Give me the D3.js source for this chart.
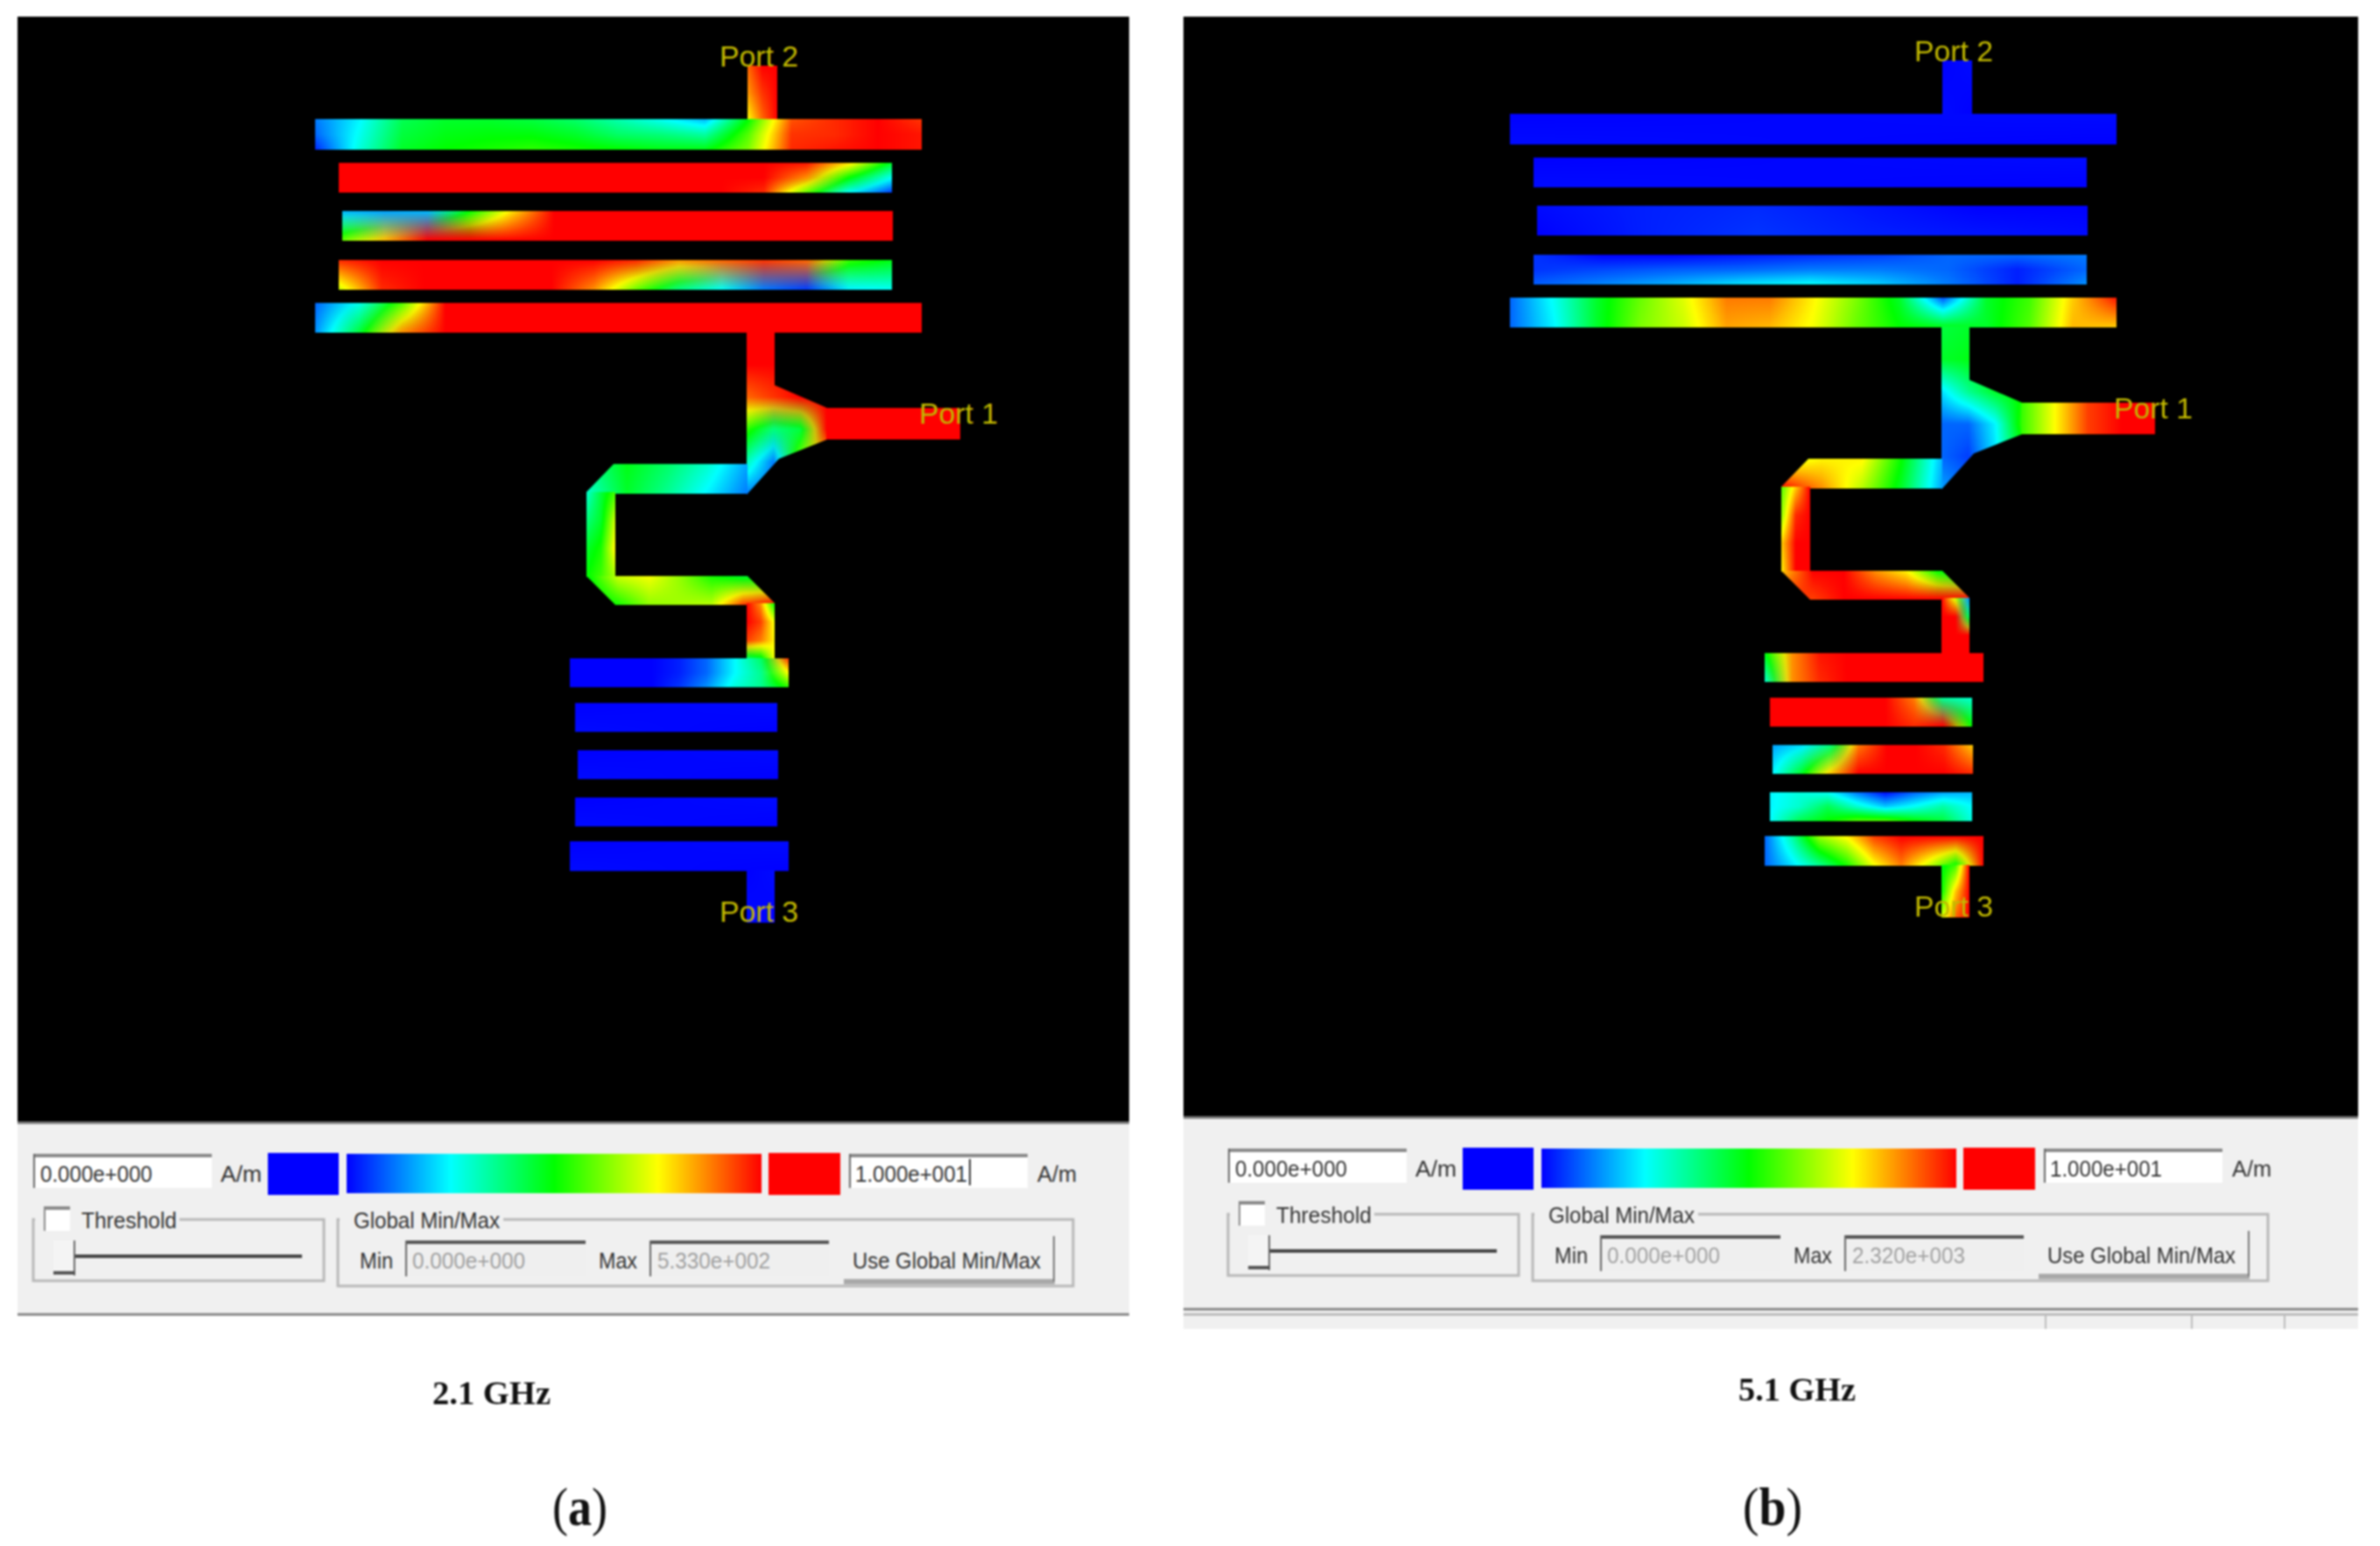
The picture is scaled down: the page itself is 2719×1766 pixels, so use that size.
<!DOCTYPE html>
<html>
<head>
<meta charset="utf-8">
<title>Surface current 2.1 GHz / 5.1 GHz</title>
<script src="https://cdn.jsdelivr.net/npm/d3@7/dist/d3.min.js"></script>
<style>
  html, body { margin: 0; padding: 0; background: #fff; }
  svg { display: block; filter: blur(0.8px); }
</style>
</head>
<body>
<div id="chart"></div>
<script>
// colour legend (A/m)
var fieldStops = [0, 2.5, 5, 7.5, 10];
var jetColors = ["#0000ff", "#00ffff", "#00ff00", "#ffff00", "#ff0000"];

// panel texts
var captions = ["2.1 GHz", "5.1 GHz"];
var panelLetters = ["a", "b"];
var legendMin = ["0.000e+000", "0.000e+000"];
var legendMax = ["1.000e+001", "1.000e+001"];
var globalMin = ["0.000e+000", "0.000e+000"];
var globalMax = ["5.330e+002", "2.320e+003"];
var portNames = ["Port 2", "Port 1", "Port 3"];
var portU = [462, 690, 462];
var portV = [1, 409, 978];

// strip layout, in layout units (same for both panels)
var stripLeft   = [494, 0, 27, 31, 27, 0, 493, 584, 310, 310, 310, 493, 291, 297, 300, 297, 291, 493];
var stripRight  = [528, 693, 659, 660, 659, 693, 585, 737, 494, 343, 525, 525, 541, 528, 529, 528, 541, 525];
var stripTop    = [0, 61, 111, 166, 222, 271, 304, 391, 455, 487, 583, 614, 677, 728, 782, 836, 886, 919];
var stripBottom = [62, 96, 145, 200, 256, 305, 490, 427, 489, 584, 616, 678, 710, 761, 815, 869, 920, 979];
var feedOutline = [[493,304],[525,304],[525,365],[585,391],[585,427],[530,449],[493,490]];
var topRunOutline = [[494,455],[341,455],[310,487],[310,489],[494,489]];
var bottomRunOutline = [[310,583],[494,583],[525,614],[525,616],[343,616]];
var stripOutlines = [null, null, null, null, null, null, feedOutline, null, topRunOutline, null, bottomRunOutline];

var lowField = [[0, 0.1], [0.1, 0]];
var highField = [[10, 10], [10, 10]];

// field, rows top to bottom
var a_stub2 = [[9,10,10],[8.5,9.5,10],[7.5,9,10]];
var a_bar1 = [
  [1.2,2.4,4.2,4.6,4.6,4.4,4.0,3.3,2.6,1.8,5.0,9.2,9.6,10,9.5],
  [1.0,2.6,4.4,4.8,4.9,4.9,4.6,4.0,3.8,3.4,5.8,9.5,9.6,10,9.8],
  [0.4,2.8,4.6,5.0,5.2,5.4,5.2,5.0,4.8,4.8,6.2,9.6,9.8,10,9.8]];
var a_bar2 = [
  [10,10,10,10,10,10,10,10,10,10,10,9.8,7.8,4.6],
  [10,10,10,10,10,10,10,10,10,10,10,8.6,5.0,2.6],
  [10,10,10,10,10,10,10,10,10,10,9.6,6.0,2.6,0.6]];
var a_bar3 = [
  [1.8,1.6,1.8,5.0,7.8,10,10,10,10,10,10,10,10,10],
  [6.0,8.2,10,10,10,10,10,10,10,10,10,10,10,10]];
var a_bar4 = [
  [9.6,10,10,10,10,10,10,9.6,8.5,9.0,9.5,9.0,5.5,4.8],
  [7.0,9.6,10,10,10,10,8.6,6.0,3.8,2.6,1.2,0.6,2.4,2.6]];
var a_bar5 = [
  [1.0,2.7,5.8,10,10,10,10,10,10,10,10,10,10,10,10],
  [1.4,4.4,8.6,10,10,10,10,10,10,10,10,10,10,10,10]];
var a_feed = [
  [10,10,10,10],
  [10,10,10,10],
  [9.0,9.5,10,10],
  [5.4,3.8,4.4,10],
  [3.2,1.2,6.2,8.0],
  [1.2,1.0,1.0,1.0]];
var a_topRun = [[3.5,4.8,4.0,3.0,1.6],[3.0,4.6,3.6,2.4,1.2]];
var a_leftRun = [[3.0,4.4,5.6],[3.8,4.6,7.0],[4.6,5.2,7.6],[5.0,5.6,6.6]];
var a_bottomRun = [[4.8,7.0,7.4,6.4,5.2,4.6,4.6],[4.4,5.2,6.4,6.6,6.8,9.4,10]];
var a_dropRun = [[10,8.6,5],[10,9.4,7.4],[9.4,8.8,7.6],[4,4.5,7.4]];
var a_bar6 = [
  [0,0,0,0,0.3,1.0,2.4,4.0,9.5],
  [0,0,0,0,0.3,1.0,2.4,3.6,7.5],
  [0,0,0,0,0.5,1.4,2.8,3.6,5.4]];

// field
var b_bar3 = [[0.1,0.3,0.4,0.2,0,0],[0,0.3,0.5,0.3,0.2,0.1]];
var b_bar4 = [
  [0.5,0,0,0.2,0.4,0.6,1.0,1.0,1.2],
  [0.5,0.7,0.9,1.0,1.2,1.2,1.0,0.3,1.0],
  [0.9,1.3,1.7,2.2,2.5,2.0,1.2,0.3,1.4]];
var b_bar5 = [
  [1.0,2.6,4.6,6.0,7.2,8.8,8.8,7.6,6.2,4.6,0.8,4.6,5.6,8.0,9.8],
  [1.0,2.4,4.6,6.2,7.0,8.4,8.2,7.4,6.0,5.0,4.8,4.6,5.8,8.2,8.0]];
var b_feed = [
  [4.4,4.6,5,5],
  [4.6,4.8,5,5],
  [2.2,3.6,4.6,5],
  [1.0,1.0,2.4,5.4],
  [1.0,0.6,2.2,4.6],
  [1.6,1,1,1]];
var b_arm = [[5.5,7.5,9.4,10,10],[5.5,7.5,9.4,10,10]];
var b_topRun = [[7,7.6,7.6,5,1.8],[10,8.6,6.8,4.6,1.6]];
var b_leftRun = [[5.8,8,10],[6.4,9.6,10],[8,10,10],[7.6,10,10]];
var b_bottomRun = [[8,10,10,8.6,7.6,5,4],[9.6,9.4,10,10,10,10,10]];
var b_dropRun = [[10,7,1.4],[10,10,4],[10,10,10],[10,10,10]];
var b_bar6 = [
  [4.8,8.6,9.8,10,10,10,10,10,10],
  [3.0,8.6,9.6,10,10,10,10,10,10]];
var b_bar7 = [
  [10,10,10,10,10,8.8,3.5,3.0],
  [10,10,10,10,10,9.6,10,5.0]];
var b_bar8 = [
  [1.6,2.2,3.8,8.8,10,10,9.6,8.0],
  [2.4,4.6,8.0,10,10,10,10,9.6]];
var b_bar9 = [
  [2.4,2.8,2.6,1.2,0.1,1.0,1.6,1.8],
  [2.4,3.0,4.2,3.0,2.0,2.6,3.4,2.5],
  [2.5,4.2,5.0,5.8,5.8,5.0,4.4,2.8]];
var b_bar10 = [
  [1.0,3.4,6.5,7.6,9.4,10,10,10,10],
  [1.0,2.2,3.6,5.2,7.4,8.8,7.0,5.0,10]];
var b_stub3 = [[4.8,5.6,10],[5,8,10],[7,9,10]];

var panelFields = [
  [a_stub2, a_bar1, a_bar2, a_bar3, a_bar4, a_bar5, a_feed, highField, a_topRun, a_leftRun, a_bottomRun, a_dropRun, a_bar6, lowField, lowField, lowField, lowField, lowField],
  [lowField, lowField, lowField, b_bar3, b_bar4, b_bar5, b_feed, b_arm, b_topRun, b_leftRun, b_bottomRun, b_dropRun, b_bar6, b_bar7, b_bar8, b_bar9, b_bar10, b_stub3]
];

// panel b sits this far from panel a, everything in it moves together
var panelDx = [0, 1365];
var panelDy = [0, -6];

var uiFont = "'Liberation Sans', Arial, sans-serif";
var serifFont = "'Liberation Serif', 'Times New Roman', serif";

var svg = d3.select("#chart").append("svg")
  .attr("width", 2719)
  .attr("height", 1766);

var defs = svg.append("defs");

// colour bar gradient
var barGradient = defs.append("linearGradient").attr("id", "jetBar");
fieldStops.forEach(function(s, i) {
  barGradient.append("stop")
    .attr("offset", (s / 10 * 100) + "%")
    .attr("stop-color", jetColors[i]);
});

var color = d3.scaleLinear().domain(fieldStops).range(jetColors).clamp(true);

// lookup so we dont parse a colour string for every pixel
var lut = d3.range(0, 1001).map(function(i) {
  return d3.rgb(color(i / 100));
});
function lookup(v) {
  return lut[Math.max(0, Math.min(1000, Math.round(v * 100)))];
}

// how muddy each grid node is: big jumps next to it go grey like the solver's
// plot does, small ones walk through the colour bar
function mudGrid(grid) {
  var rows = grid.length, cols = grid[0].length;
  return grid.map(function(row, r) {
    return row.map(function(v, c) {
      var jump = 0;
      for (var i = Math.max(0, r - 1); i <= Math.min(rows - 1, r + 1); i++) {
        for (var j = Math.max(0, c - 1); j <= Math.min(cols - 1, c + 1); j++) {
          // only straight or diagonal neighbours in the same cell count
          jump = Math.max(jump, Math.abs(grid[i][j] - v));
        }
      }
      return Math.max(0, Math.min(1, (jump - 4.5) / 2.5));
    });
  });
}

// paints a value grid to an image
function fieldImage(grid, w, h) {
  var canvas = document.createElement("canvas");
  canvas.width = w;
  canvas.height = h;
  var ctx = canvas.getContext("2d");
  var img = ctx.createImageData(w, h);
  var rows = grid.length, cols = grid[0].length;
  var muds = mudGrid(grid);
  for (var y = 0; y < h; y++) {
    var fy = y / Math.max(1, h - 1) * (rows - 1);
    var r0 = Math.min(rows - 2, Math.floor(fy));
    var ty = fy - r0;
    for (var x = 0; x < w; x++) {
      var fx = x / Math.max(1, w - 1) * (cols - 1);
      var c0 = Math.min(cols - 2, Math.floor(fx));
      var tx = fx - c0;
      var a = grid[r0][c0], b = grid[r0][c0 + 1], c = grid[r0 + 1][c0], d = grid[r0 + 1][c0 + 1];
      var v = (a * (1 - tx) + b * tx) * (1 - ty) + (c * (1 - tx) + d * tx) * ty;
      var mud = (muds[r0][c0] * (1 - tx) + muds[r0][c0 + 1] * tx) * (1 - ty) + (muds[r0 + 1][c0] * (1 - tx) + muds[r0 + 1][c0 + 1] * tx) * ty;
      var p = lookup(v), ca = lookup(a), cb = lookup(b), cc = lookup(c), cd = lookup(d);
      var i = (y * w + x) * 4;
      ["r", "g", "b"].forEach(function(k, n) {
        var flat = (ca[k] * (1 - tx) + cb[k] * tx) * (1 - ty) + (cc[k] * (1 - tx) + cd[k] * tx) * ty;
        img.data[i + n] = p[k] * (1 - mud) + flat * mud;
      });
      img.data[i + 3] = 255;
    }
  }
  ctx.putImageData(img, 0, 0);
  return canvas.toDataURL();
}

function uiText(g, x, y, str, width, fill, size) {
  return g.append("text")
    .attr("x", x)
    .attr("y", y)
    .attr("font-family", uiFont)
    .attr("font-size", size || 25)
    .attr("fill", fill || "#333")
    .attr("textLength", width)
    .attr("lengthAdjust", "spacingAndGlyphs")
    .text(str);
}

function inputBox(g, x, y, w, h, fill) {
  g.append("rect").attr("x", x).attr("y", y).attr("width", w).attr("height", h).attr("fill", fill);
  g.append("rect").attr("x", x).attr("y", y).attr("width", w).attr("height", 4).attr("fill", fill == "#fff" ? "#8a8a8a" : "#555");
  g.append("rect").attr("x", x).attr("y", y).attr("width", 2).attr("height", h).attr("fill", "#666");
}

function groupBox(g, x, y, w, h, gapStart, gapEnd) {
  g.append("path")
    .attr("d", "M" + gapStart + "," + y + "H" + x + "V" + (y + h) + "H" + (x + w) + "V" + y + "H" + gapEnd)
    .attr("fill", "none")
    .attr("stroke", "#b8b8b8")
    .attr("stroke-width", 3);
}

function drawPanel(p) {
  var g = svg.append("g").attr("transform", "translate(" + panelDx[p] + "," + panelDy[p] + ")");

  // panel b's window is a bit wider than panel a's
  var winLeft = p == 0 ? 20 : -13;
  var winRight = p == 0 ? 1290 : 1329;

  g.append("rect")
    .attr("x", winLeft).attr("y", p == 0 ? 19 : 25)
    .attr("width", winRight - winLeft).attr("height", p == 0 ? 1262 : 1256)
    .attr("fill", "#000");

  var x = d3.scaleLinear().domain([0, 1000]).range([360, 1360]);
  var y = d3.scaleLinear().domain([0, 1000]).range([75, 1075]);
  var strips = g.append("g");
  var fields = panelFields[p];

  stripLeft.forEach(function(left, i) {
    var x0 = x(left), x1 = x(stripRight[i]), y0 = y(stripTop[i]), y1 = y(stripBottom[i]);
    var image = strips.append("image")
      .attr("x", x0)
      .attr("y", y0)
      .attr("width", x1 - x0)
      .attr("height", y1 - y0)
      .attr("preserveAspectRatio", "none")
      .attr("href", fieldImage(fields[i], Math.round(x1 - x0), Math.round(y1 - y0)));
    if (stripOutlines[i]) {
      var id = "clip" + p + "_" + i;
      defs.append("clipPath").attr("id", id).append("polygon")
        .attr("points", stripOutlines[i].map(function(d) { return x(d[0]) + "," + y(d[1]); }).join(" "));
      image.attr("clip-path", "url(#" + id + ")");
    }
  });

  // port labels sit on top of the strips
  g.selectAll(".port")
    .data(portNames)
    .enter().append("text")
      .attr("class", "port")
      .attr("x", function(d, i) { return x(portU[i]); })
      .attr("y", function(d, i) { return y(portV[i]); })
      .attr("font-family", uiFont)
      .attr("font-size", 34)
      .attr("fill", "#c2b900")
      .attr("textLength", 90)
      .attr("lengthAdjust", "spacingAndGlyphs")
      .text(function(d) { return d; });

  // control bar under the plot
  g.append("rect").attr("x", winLeft).attr("y", 1281).attr("width", winRight - winLeft).attr("height", 222).attr("fill", "#f0f0f0");
  g.append("rect").attr("x", winLeft).attr("y", 1281).attr("width", winRight - winLeft).attr("height", 3).attr("fill", "#7a7a7a");
  g.append("rect").attr("x", winLeft).attr("y", 1500).attr("width", winRight - winLeft).attr("height", 3).attr("fill", "#8a8a8a");

  if (p == 1) {
    // status bar only shows in the second screenshot
    g.append("rect").attr("x", winLeft).attr("y", 1503).attr("width", winRight - winLeft).attr("height", 21).attr("fill", "#f0f0f0");
    g.append("rect").attr("x", winLeft).attr("y", 1506).attr("width", winRight - winLeft).attr("height", 3).attr("fill", "#bcbcbc");
    [971, 1138, 1244].forEach(function(sx) {
      g.append("rect").attr("x", sx).attr("y", 1506).attr("width", 2).attr("height", 18).attr("fill", "#bcbcbc");
    });
  }

  // colour legend row
  inputBox(g, 38, 1318, 204, 39, "#fff");
  uiText(g, 46, 1350, legendMin[p], 128);
  uiText(g, 252, 1350, "A/m", 47);
  g.append("rect").attr("x", 306).attr("y", 1317).attr("width", 81).attr("height", 48).attr("fill", jetColors[0]);
  g.append("rect").attr("x", 396).attr("y", 1318).attr("width", 474).attr("height", 45).attr("fill", "url(#jetBar)");
  g.append("rect").attr("x", 878).attr("y", 1317).attr("width", 82).attr("height", 48).attr("fill", jetColors[4]);
  inputBox(g, 970, 1318, 204, 39, "#fff");
  uiText(g, 977, 1350, legendMax[p], 128);
  if (p == 0) g.append("rect").attr("x", 1107).attr("y", 1324).attr("width", 2).attr("height", 30).attr("fill", "#333");
  uiText(g, 1185, 1350, "A/m", 45);

  // threshold group
  groupBox(g, 38, 1393, 332, 70, 40, 205);
  g.append("rect").attr("x", 50).attr("y", 1378).attr("width", 30).attr("height", 28).attr("fill", "#fff");
  g.append("rect").attr("x", 50).attr("y", 1378).attr("width", 30).attr("height", 4).attr("fill", "#8a8a8a");
  g.append("rect").attr("x", 50).attr("y", 1378).attr("width", 2).attr("height", 28).attr("fill", "#8a8a8a");
  uiText(g, 93, 1403, "Threshold", 109);
  g.append("rect").attr("x", 84).attr("y", 1433).attr("width", 261).attr("height", 4).attr("fill", "#444");
  g.append("rect").attr("x", 61).attr("y", 1417).attr("width", 25).attr("height", 40).attr("fill", "#f4f4f4");
  g.append("rect").attr("x", 84).attr("y", 1417).attr("width", 2).attr("height", 40).attr("fill", "#666");
  g.append("rect").attr("x", 61).attr("y", 1452).attr("width", 25).attr("height", 4).attr("fill", "#555");

  // global min/max group
  groupBox(g, 386, 1393, 840, 76, 388, 575);
  uiText(g, 404, 1403, "Global Min/Max", 167);
  uiText(g, 411, 1449, "Min", 38);
  inputBox(g, 463, 1417, 206, 41, "#efefef");
  uiText(g, 471, 1449, globalMin[p], 129, "#a0a0a0");
  uiText(g, 684, 1449, "Max", 44);
  inputBox(g, 742, 1417, 205, 41, "#efefef");
  uiText(g, 751, 1449, globalMax[p], 129, "#a0a0a0");
  g.append("rect").attr("x", 964).attr("y", 1412).attr("width", 241).attr("height", 55).attr("fill", "#a9a9a9");
  g.append("rect").attr("x", 964).attr("y", 1412).attr("width", 239).attr("height", 49).attr("fill", "#f0f0f0");
  g.append("rect").attr("x", 1203).attr("y", 1412).attr("width", 2).attr("height", 52).attr("fill", "#777");
  uiText(g, 974, 1449, "Use Global Min/Max", 215);
}

drawPanel(0);
drawPanel(1);

// captions under the screenshots
var captionLeft = [494, 1986];
var captionY = [1604, 1600];
var captionWidth = [135, 134];
var letterLeft = [631, 1991];
var letterWidth = [63, 68];

captions.forEach(function(c, i) {
  svg.append("text")
    .attr("x", captionLeft[i])
    .attr("y", captionY[i])
    .attr("font-family", serifFont)
    .attr("font-weight", "bold")
    .attr("font-size", 38)
    .attr("fill", "#111")
    .attr("textLength", captionWidth[i])
    .attr("lengthAdjust", "spacingAndGlyphs")
    .text(c);

  var letter = svg.append("text")
    .attr("x", letterLeft[i])
    .attr("y", 1742)
    .attr("font-family", serifFont)
    .attr("font-size", 62)
    .attr("fill", "#111")
    .attr("textLength", letterWidth[i])
    .attr("lengthAdjust", "spacingAndGlyphs");
  letter.append("tspan").text("(");
  letter.append("tspan").attr("font-weight", "bold").text(panelLetters[i]);
  letter.append("tspan").text(")");
});
</script>
</body>
</html>
